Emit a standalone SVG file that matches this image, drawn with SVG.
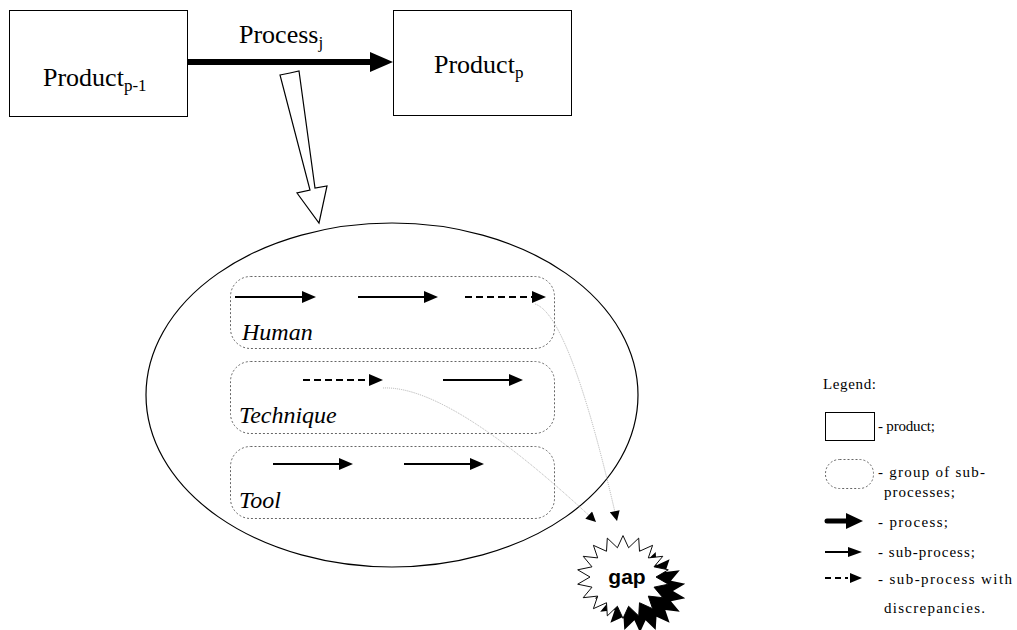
<svg xmlns="http://www.w3.org/2000/svg" width="1017" height="630" viewBox="0 0 1017 630">
  <style>
    .box { fill: #fff; stroke: #000; stroke-width: 1; }
    text { fill: #000; font-family: Liberation Serif, Times New Roman, serif; }
    .big { font-size: 26px; }
    .sub { font-size: 17px; }
    .lbl { font-size: 24px; font-style: italic; }
    .leg { font-size: 15px; }
    .group { fill: none; stroke: #666; stroke-width: 1; stroke-dasharray: 2 2; }
    .sp { stroke: #000; stroke-width: 2; fill: none; }
    .spd { stroke: #000; stroke-width: 2; fill: none; stroke-dasharray: 7 4; }
    .head { fill: #000; }
    .link { fill: none; stroke: #b0b0b0; stroke-width: 1; stroke-dasharray: 1 1; }
  </style>
  <defs>
    <!-- 18-point starburst, outer radius 46, inner radius 33 -->
    <polygon id="burst" points="0,-46 5.6,-32.5 15.7,-43.2 16.5,-28.6 29.6,-35.2 25.3,-21.2 39.8,-23 31,-11.3 45.3,-8 33,0 45.3,8 31,11.3 39.8,23 25.3,21.2 29.6,35.2 16.5,28.6 15.7,43.2 5.6,32.5 0,46 -5.6,32.5 -15.7,43.2 -16.5,28.6 -29.6,35.2 -25.3,21.2 -39.8,23 -31,11.3 -45.3,8 -33,0 -45.3,-8 -31,-11.3 -39.8,-23 -25.3,-21.2 -29.6,-35.2 -16.5,-28.6 -15.7,-43.2 -5.6,-32.5"/>
    <marker id="tip" viewBox="0 0 10 10" refX="10" refY="5" markerWidth="11" markerHeight="10" markerUnits="userSpaceOnUse" orient="auto">
      <path d="M0,0 L10,5 L0,10 Z" fill="#000"/>
    </marker>
  </defs>

  <!-- products -->
  <g id="product-prev">
    <rect class="box" x="9.5" y="10.5" width="178" height="106"/>
    <text class="big" x="43" y="86">Product<tspan class="sub" dy="5">p-1</tspan></text>
  </g>
  <g id="product-next">
    <rect class="box" x="393.5" y="10.5" width="178" height="105"/>
    <text class="big" x="434" y="73">Product<tspan class="sub" dy="5">p</tspan></text>
  </g>

  <!-- main process -->
  <g id="process">
    <line x1="187" y1="62" x2="372" y2="62" stroke="#000" stroke-width="6"/>
    <polygon points="370,52 393,62 370,72" fill="#000"/>
    <text class="big" x="239" y="43">Process<tspan class="sub" dy="5">j</tspan></text>
  </g>

  <!-- hollow zoom arrow -->
  <g id="zoom-arrow">
    <path d="M280,75 L290,73 L299,71 L315,188 L327,186 L319,223 L297,193 L310,190 Z" fill="#fff" stroke="#000" stroke-width="1.2" stroke-linejoin="miter"/>
  </g>

  <!-- sub-process container -->
  <g id="container">
    <ellipse cx="392" cy="395" rx="246" ry="172" fill="none" stroke="#000" stroke-width="1.2"/>
  </g>

  <g id="group-human">
    <rect class="group" x="230.5" y="276.5" width="324" height="72" rx="20"/>
    <line class="sp" x1="235" y1="297" x2="303" y2="297"/>
    <polygon class="head" points="302,291 316,297 302,303"/>
    <line class="sp" x1="358" y1="297" x2="425" y2="297"/>
    <polygon class="head" points="424,291 438,297 424,303"/>
    <line class="spd" x1="465" y1="297" x2="533" y2="297"/>
    <polygon class="head" points="532,291 546,297 532,303"/>
    <text class="lbl" x="242" y="340">Human</text>
  </g>

  <g id="group-technique">
    <rect class="group" x="230.5" y="361.5" width="324" height="72" rx="20"/>
    <line class="spd" x1="303" y1="380" x2="370" y2="380"/>
    <polygon class="head" points="369,374 383,380 369,386"/>
    <line class="sp" x1="443" y1="380" x2="510" y2="380"/>
    <polygon class="head" points="509,374 523,380 509,386"/>
    <text class="lbl" x="239" y="423">Technique</text>
  </g>

  <g id="group-tool">
    <rect class="group" x="230.5" y="446.5" width="324" height="72" rx="20"/>
    <line class="sp" x1="273" y1="464" x2="340" y2="464"/>
    <polygon class="head" points="339,458 353,464 339,470"/>
    <line class="sp" x1="404" y1="464" x2="471" y2="464"/>
    <polygon class="head" points="470,458 484,464 470,470"/>
    <text class="lbl" x="239" y="508">Tool</text>
  </g>

  <!-- links from discrepant sub-processes to the gap -->
  <g id="connectors">
    <path class="link" d="M535,304 Q570,315 617,521" marker-end="url(#tip)"/>
    <path class="link" d="M383,388 Q450,385 596,522" marker-end="url(#tip)"/>
  </g>

  <!-- gap burst -->
  <g id="gap">
    <use href="#burst" transform="translate(640,591) scale(1,0.9)" fill="#000"/>
    <use href="#burst" transform="translate(623,577) scale(1,0.9)" fill="#fff" stroke="#000" stroke-width="1"/>
    <text x="627" y="584" text-anchor="middle" style="font-family: Liberation Sans, Arial, sans-serif" font-weight="bold" font-size="21">gap</text>
  </g>

  <!-- legend -->
  <g id="legend">
    <text class="leg" x="823" y="389" textLength="53" lengthAdjust="spacing">Legend:</text>
    <rect class="box" x="825.5" y="412.5" width="49" height="28"/>
    <text class="leg" x="878" y="431" textLength="57" lengthAdjust="spacing">- product;</text>
    <rect class="group" x="825.5" y="459.5" width="48" height="29" rx="14"/>
    <text class="leg" x="878" y="477" textLength="107" lengthAdjust="spacing">- group of sub-</text>
    <text class="leg" x="884" y="497" textLength="71" lengthAdjust="spacing">processes;</text>
    <line x1="827" y1="521" x2="848" y2="521" stroke="#000" stroke-width="5" stroke-linecap="round"/>
    <polygon points="846,513 863,521 846,529" fill="#000"/>
    <text class="leg" x="878" y="527" textLength="70" lengthAdjust="spacing">- process;</text>
    <line x1="825" y1="552" x2="850" y2="552" stroke="#000" stroke-width="2"/>
    <polygon points="848,547 862,552 848,557" fill="#000"/>
    <text class="leg" x="878" y="557" textLength="97" lengthAdjust="spacing">- sub-process;</text>
    <line x1="825" y1="578" x2="848" y2="578" stroke="#000" stroke-width="2" stroke-dasharray="6 4"/>
    <polygon points="850,573 862,578 850,583" fill="#000"/>
    <text class="leg" x="878" y="584" textLength="134" lengthAdjust="spacing">- sub-process with</text>
    <text class="leg" x="884" y="613" textLength="101" lengthAdjust="spacing">discrepancies.</text>
  </g>
</svg>
